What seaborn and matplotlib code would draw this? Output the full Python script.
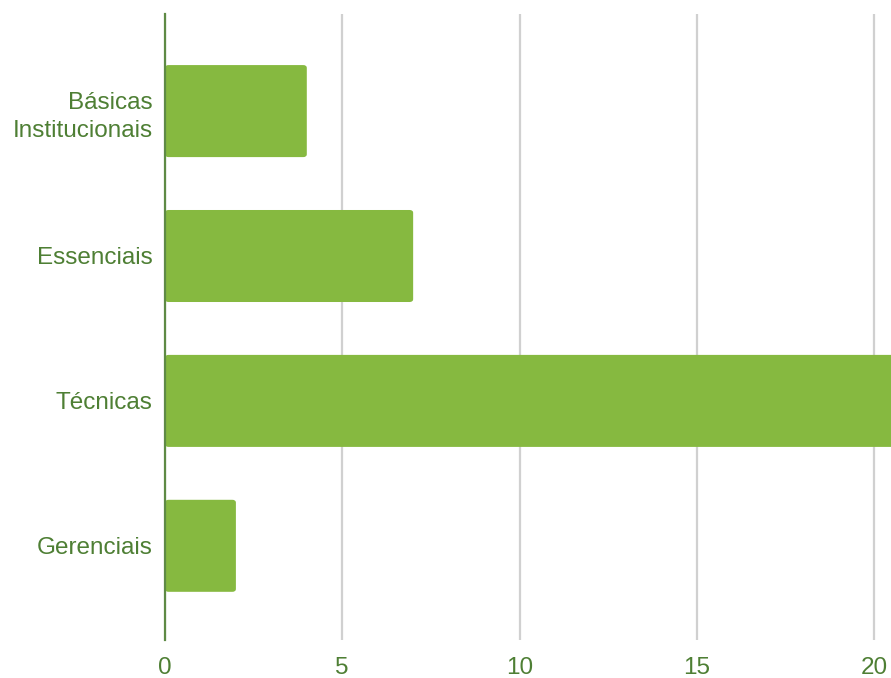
import pandas as pd
import matplotlib
matplotlib.use("Agg")
import matplotlib.pyplot as plt
import seaborn as sns
from matplotlib.patches import FancyBboxPatch

# Dados
categorias = ["Básicas\nInstitucionais", "Essenciais", "Técnicas", "Gerenciais"]
valores = [4, 7, 21, 2]
ticks_x = [0, 5, 10, 15, 20]

df = pd.DataFrame({"categoria": categorias, "valor": valores})

cor_barra = "#86b940"
cor_texto = "#4e7f34"

sns.set_theme(style="white")
plt.rcParams["font.family"] = ["Liberation Sans", "DejaVu Sans"]

fig = plt.figure(figsize=(8.91, 6.78), dpi=100)
ax = fig.add_axes([165 / 891, 38 / 678, 726 / 891, 626 / 678])

sns.barplot(data=df, x="valor", y="categoria", orient="h", color=cor_barra,
            width=0.635, saturation=1, ax=ax)

# cantos arredondados
for p in list(ax.patches):
    x, y = p.get_x(), p.get_y()
    w, h = p.get_width(), p.get_height()
    p.remove()
    rb = FancyBboxPatch((x, y), w, h, boxstyle="round,pad=0,rounding_size=0.1",
                        mutation_aspect=1 / 5.0, facecolor=cor_barra,
                        edgecolor="none", zorder=2)
    ax.add_patch(rb)

ax.set_xlim(0, 726 / 35.45)
ax.set_ylim(3.65, -0.67)
ax.set_xticks(ticks_x)
ax.set_xlabel("")
ax.set_ylabel("")

ax.grid(axis="x", color="#d0d0d0", linewidth=1.6, zorder=0)
ax.set_axisbelow(True)
for s in ["top", "right", "bottom"]:
    ax.spines[s].set_visible(False)
ax.spines["left"].set_color("#5e8a45")
ax.spines["left"].set_linewidth(1.6)
ax.spines["left"].set_zorder(3)

ax.tick_params(axis="both", length=0, labelsize=17.5, colors=cor_texto)
ax.tick_params(axis="y", pad=9)
ax.tick_params(axis="x", pad=12)

fig.canvas.draw()
for tick in ax.yaxis.get_major_ticks():
    tick.label1.set_linespacing(1.35)
    tick.label1.set_multialignment("right")

fig.savefig("out.png", dpi=100)
